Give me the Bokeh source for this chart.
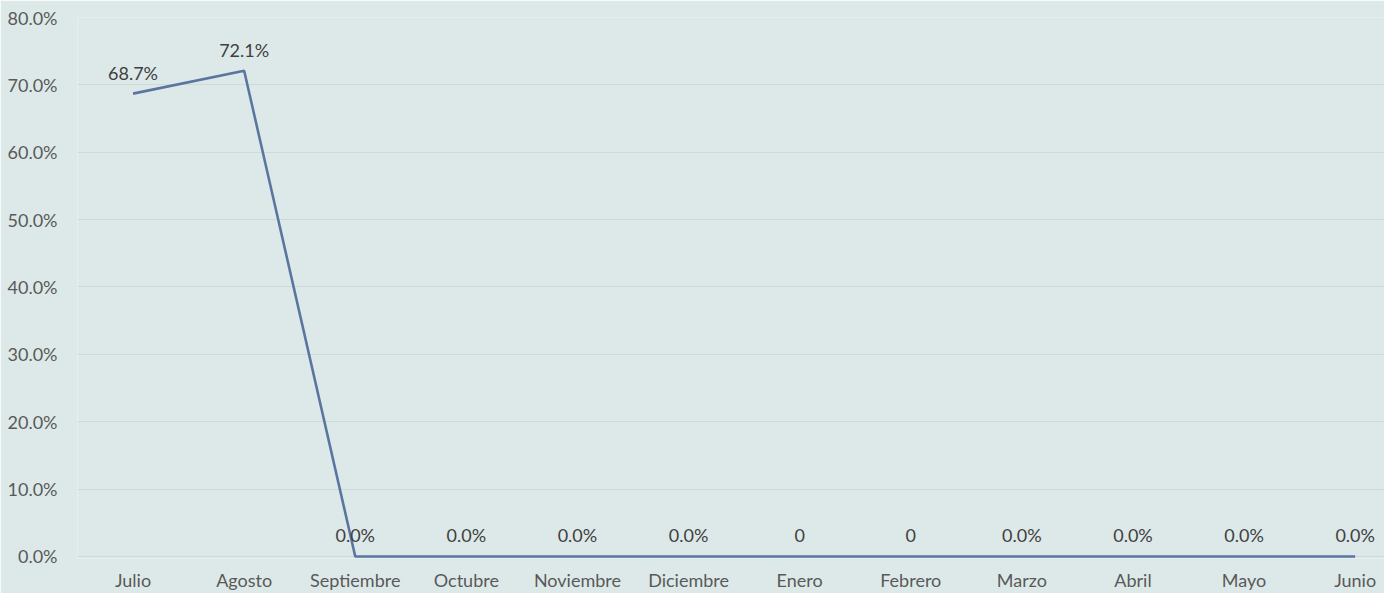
from bokeh.plotting import figure
from bokeh.models import ColumnDataSource, FixedTicker, NumeralTickFormatter, Range1d
from bokeh.core.properties import value
from bokeh.embed import file_html
from bokeh.resources import INLINE

months = ["Julio", "Agosto", "Septiembre", "Octubre", "Noviembre", "Diciembre",
          "Enero", "Febrero", "Marzo", "Abril", "Mayo", "Junio"]
values = [0.687, 0.721, 0.0, 0.0, 0.0, 0.0, 0.0, 0.0, 0.0, 0.0, 0.0, 0.0]
labels = ["68.7%", "72.1%", "0.0%", "0.0%", "0.0%", "0.0%", "0", "0",
          "0.0%", "0.0%", "0.0%", "0.0%"]
y_ticks = [0.0, 0.1, 0.2, 0.3, 0.4, 0.5, 0.6, 0.7, 0.8]

BG = "#dde9e8"
FONT = "Lato"

xs = list(range(len(months)))
src = ColumnDataSource(dict(x=xs, y=values, lab=labels))

p = figure(width=1384, height=593, output_backend="svg", toolbar_location=None,
           x_range=Range1d(-0.5, 11.264), y_range=Range1d(-0.003, 0.8),
           min_border_left=77, min_border_top=17, min_border_right=0, min_border_bottom=35)
p.background_fill_color = BG
p.border_fill_color = BG
p.outline_line_color = None

p.line("x", "y", source=src, line_color="#5a75a0", line_width=2.6)
p.text("x", "y", text="lab", source=src, text_align="center", text_baseline="middle",
       y_offset=-21, text_font=value(FONT), text_font_size="18px", text_color="#404040")

p.xaxis.ticker = FixedTicker(ticks=xs)
p.xaxis.major_label_overrides = {i: m for i, m in enumerate(months)}
p.yaxis.ticker = FixedTicker(ticks=y_ticks)
p.yaxis.formatter = NumeralTickFormatter(format="0.0%")

for ax in (p.xaxis[0], p.yaxis[0]):
    ax.axis_line_color = None
    ax.major_tick_line_color = None
    ax.minor_tick_line_color = None
    ax.major_tick_out = 0
    ax.major_tick_in = 0
    ax.minor_tick_out = 0
    ax.minor_tick_in = 0
    ax.major_label_text_font = FONT
    ax.major_label_text_font_size = "18px"
    ax.major_label_text_color = "#595959"
p.xaxis.major_label_standoff = 10
p.yaxis.major_label_standoff = 20

p.xgrid.grid_line_color = None
p.ygrid.grid_line_color = "#ced9d8"
p.ygrid.grid_line_width = 1

open("out.html", "w").write(file_html(p, INLINE))
